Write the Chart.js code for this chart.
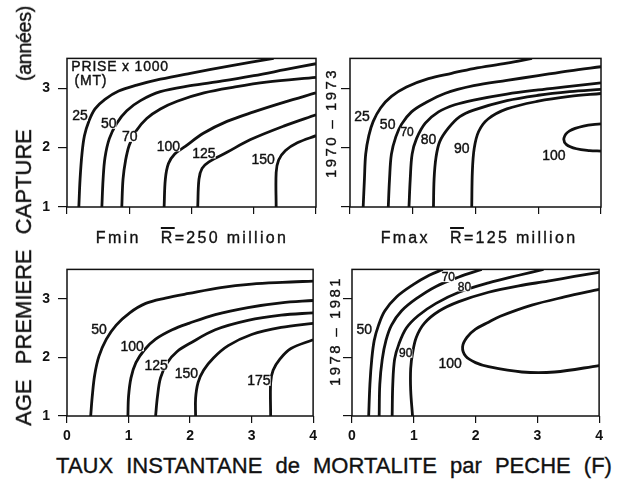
<!DOCTYPE html>
<html lang="fr">
<head>
<meta charset="utf-8">
<title>Prise x 1000 (MT) – isoplèthes</title>
<script src="https://cdn.jsdelivr.net/npm/chart.js@4.4.1/dist/chart.umd.min.js"></script>
<style>
  html, body { margin: 0; padding: 0; background: #fff; }
  body {
    width: 627px; height: 479px; position: relative; overflow: hidden;
    font-family: "Liberation Sans", Arial, sans-serif; color: #111;
  }
  canvas { position: absolute; }
  .txt {
    position: absolute; white-space: nowrap; line-height: 1;
    transform: translate(-50%, -50%);
    -webkit-text-stroke: 0.35px #111;
  }
  .rot { transform: translate(-50%, -50%) rotate(-90deg); }
  .bar { text-decoration: overline; text-decoration-thickness: 1.5px; }
</style>
</head>
<body>

<canvas id="tl" width="295" height="197" style="left:27px;top:42px"></canvas>
<canvas id="tr" width="297" height="197" style="left:310px;top:42px"></canvas>
<canvas id="bl" width="295" height="195" style="left:27px;top:253px"></canvas>
<canvas id="br" width="296" height="195" style="left:312px;top:253px"></canvas>

<div class="txt rot" style="left:24px;top:216px;font-size:22px;word-spacing:9px">AGE PREMIERE CAPTURE<span style="font-size:20px;letter-spacing:-0.5px;margin-left:48px">(années)</span></div>
<div class="txt rot" style="left:330px;top:123px;font-size:15px;letter-spacing:2.4px">1970 – 1973</div>
<div class="txt rot" style="left:334px;top:331px;font-size:15px;letter-spacing:2.4px">1978 – 1981</div>
<div class="txt" style="left:192px;top:238px;font-size:16px;letter-spacing:2.3px">Fmin&nbsp;&nbsp; <span class="bar">R</span>=250 million</div>
<div class="txt" style="left:479px;top:238px;font-size:16px;letter-spacing:2.3px">Fmax&nbsp;&nbsp; <span class="bar">R</span>=125 million</div>
<div class="txt" style="left:334px;top:466px;font-size:22px;word-spacing:7px">TAUX INSTANTANE de MORTALITE par PECHE (F)</div>

<script>
'use strict';

/* ============================================================
   DATA – isopleths of catch (x1000 MT), points [F, age]
   ============================================================ */

/* Top-left : Fmin, R = 250 million, 1970-1973 */
const TL_LEVELS   = ['25', '50', '70', '100', '125', '150'];
const TL_25  = [[0.19,1.0],[0.21,1.47],[0.24,1.89],[0.28,2.2],[0.35,2.44],[0.45,2.65],[0.61,2.81],[0.83,2.95],[1.12,3.05],[1.5,3.15],[1.98,3.25],[2.6,3.37],[3.32,3.5]];
const TL_50  = [[0.56,1.0],[0.58,1.47],[0.61,1.83],[0.68,2.15],[0.8,2.41],[0.96,2.62],[1.18,2.79],[1.5,2.94],[1.98,3.04],[2.5,3.12],[3.0,3.21],[3.5,3.31],[4.0,3.41]];
const TL_70  = [[0.88,1.0],[0.9,1.47],[0.94,1.78],[1.0,2.04],[1.11,2.28],[1.28,2.49],[1.5,2.65],[1.77,2.78],[2.2,2.92],[2.7,3.02],[3.2,3.1],[4.0,3.18]];
const TL_100 = [[1.56,1.0],[1.58,1.47],[1.63,1.73],[1.73,1.89],[1.9,2.02],[2.19,2.24],[2.57,2.44],[3.0,2.6],[3.48,2.76],[4.0,2.92]];
const TL_125 = [[2.1,1.0],[2.12,1.47],[2.17,1.65],[2.28,1.76],[2.57,1.92],[2.94,2.13],[3.48,2.36],[4.0,2.55]];
const TL_150 = [[3.36,1.0],[3.36,1.58],[3.4,1.79],[3.51,1.95],[3.7,2.08],[4.0,2.2]];
const TL_LABEL_AT = [[0.21,2.53],[0.67,2.40],[1.01,2.18],[1.63,2.02],[2.2,1.9],[3.15,1.79]];

/* Top-right : Fmax, R = 125 million, 1970-1973 */
const TR_LEVELS   = ['25', '50', '70', '80', '90', '100'];
const TR_25  = [[0.21,1.0],[0.23,1.47],[0.25,1.89],[0.3,2.2],[0.37,2.44],[0.49,2.67],[0.66,2.86],[0.9,3.02],[1.25,3.16],[1.62,3.25],[1.97,3.33],[2.5,3.42],[2.9,3.5]];
const TR_50  = [[0.61,1.0],[0.63,1.47],[0.66,1.89],[0.73,2.18],[0.82,2.39],[0.98,2.6],[1.2,2.75],[1.51,2.91],[1.97,3.04],[2.5,3.13],[3.0,3.21],[3.5,3.29],[4.0,3.36]];
const TR_70  = [[0.94,1.0],[0.96,1.47],[0.99,1.89],[1.06,2.15],[1.2,2.41],[1.41,2.6],[1.67,2.72],[1.97,2.8],[2.5,2.9],[3.0,2.97],[3.5,3.03],[4.0,3.09]];
const TR_80  = [[1.33,1.0],[1.34,1.47],[1.37,1.83],[1.43,2.1],[1.57,2.33],[1.75,2.52],[1.97,2.63],[2.5,2.79],[3.0,2.88],[3.5,2.94],[4.0,2.98]];
const TR_90  = [[1.94,1.0],[1.95,1.6],[1.98,1.99],[2.05,2.27],[2.2,2.48],[2.5,2.65],[3.0,2.78],[3.5,2.86],[4.0,2.91]];
const TR_100 = [[4.0,2.4],[3.72,2.36],[3.5,2.28],[3.41,2.16],[3.45,2.05],[3.61,1.98],[3.82,1.95],[4.0,1.94]];
const TR_LABEL_AT = [[0.19,2.52],[0.6,2.39],[0.91,2.26],[1.25,2.13],[1.78,1.99],[3.25,1.87]];

/* Bottom-left : Fmin, R = 250 million, 1978-1981 */
const BL_LEVELS   = ['50', '100', '125', '150', '175'];
const BL_50  = [[0.385,1.0],[0.41,1.33],[0.45,1.7],[0.52,2.02],[0.64,2.31],[0.8,2.55],[1.02,2.76],[1.28,2.92],[1.6,3.01],[1.98,3.09],[2.5,3.19],[3.0,3.25],[3.5,3.28],[4.0,3.3]];
const BL_100 = [[0.99,1.0],[1.0,1.33],[1.04,1.65],[1.12,1.91],[1.26,2.13],[1.44,2.31],[1.71,2.47],[1.98,2.58],[2.41,2.73],[2.94,2.85],[3.48,2.93],[4.0,2.97]];
const BL_125 = [[1.44,1.0],[1.47,1.33],[1.52,1.65],[1.63,1.91],[1.79,2.1],[2.0,2.24],[2.41,2.47],[2.94,2.63],[3.48,2.72],[4.0,2.76]];
const BL_150 = [[2.09,1.0],[2.09,1.3],[2.13,1.57],[2.22,1.78],[2.38,1.99],[2.62,2.2],[3.0,2.39],[3.48,2.51],[4.0,2.58]];
const BL_175 = [[3.31,1.0],[3.31,1.57],[3.35,1.78],[3.46,1.97],[3.64,2.15],[4.0,2.3]];
const BL_LABEL_AT = [[0.52,2.47],[1.06,2.19],[1.45,1.86],[1.94,1.73],[3.12,1.6]];

/* Bottom-right : Fmax, R = 125 million, 1978-1981 */
const BR_LEVELS   = ['50', '70', '80', '90', '100'];
const BR_50  = [[0.27,1.0],[0.29,1.54],[0.32,1.97],[0.36,2.29],[0.43,2.55],[0.53,2.79],[0.72,3.03],[0.99,3.24],[1.25,3.4],[1.47,3.5]];
const BR_70  = [[0.44,1.0],[0.45,1.54],[0.49,1.97],[0.55,2.29],[0.64,2.55],[0.8,2.79],[1.04,3.0],[1.36,3.21],[1.73,3.37],[2.1,3.5]];
const BR_80  = [[0.65,1.0],[0.66,1.54],[0.69,1.97],[0.76,2.23],[0.88,2.5],[1.07,2.71],[1.36,2.92],[1.73,3.11],[2.21,3.27],[2.7,3.4],[3.1,3.5]];
const BR_90  = [[0.98,1.0],[0.95,1.44],[0.95,1.81],[0.98,2.07],[1.04,2.34],[1.17,2.58],[1.41,2.79],[1.73,2.95],[2.21,3.11],[2.7,3.22],[3.17,3.3],[3.6,3.38],[4.0,3.45]];
const BR_100 = [[4.0,3.16],[3.44,3.03],[2.91,2.89],[2.4,2.7],[2.21,2.6],[2.0,2.48],[1.86,2.34],[1.79,2.18],[1.84,2.02],[2.0,1.91],[2.21,1.84],[2.75,1.75],[3.28,1.75],[4.0,1.86]];
const BR_LABEL_AT = [[0.2,2.48],[1.56,3.36],[1.82,3.2],[0.87,2.07],[1.59,1.89]];

/* Axis ticks */
const F_TICKS   = [0, 1, 2, 3, 4];
const AGE_TICKS = [1, 2, 3];

/* ============================================================
   PLUGINS
   ============================================================ */
const FONT = '"Liberation Sans", Arial, sans-serif';
const INK  = '#111';

/* Full rectangle round the plot area */
const framePlugin = {
  id: 'frame',
  afterDatasetsDraw(chart) {
    const a = chart.chartArea, ctx = chart.ctx;
    ctx.save();
    ctx.strokeStyle = INK;
    ctx.lineWidth = 1.5;
    ctx.strokeRect(a.left, a.top, a.right - a.left, a.bottom - a.top);
    ctx.restore();
  }
};

/* Level labels, placed in data units */
const levelLabelPlugin = {
  id: 'levelLabels',
  afterDatasetsDraw(chart, args, opts) {
    const ctx = chart.ctx, xs = chart.scales.x, ys = chart.scales.y;
    ctx.save();
    ctx.textAlign = 'center';
    ctx.textBaseline = 'middle';
    ctx.strokeStyle = INK;
    ctx.lineWidth = 0.4;
    (opts.texts || []).forEach(function (t, i) {
      const at = opts.at[i];
      const px = xs.getPixelForValue(at[0]);
      const py = ys.getPixelForValue(at[1]);
      const small = (opts.small || []).indexOf(t) >= 0;
      ctx.font = (small ? 12 : 14) + 'px ' + FONT;
      const w = ctx.measureText(t).width;
      const h = small ? 9 : 10;
      ctx.fillStyle = '#fff';
      ctx.fillRect(px - w / 2, py - h / 2, w, h);
      ctx.fillStyle = INK;
      ctx.fillText(t, px, py + 0.5);
      ctx.strokeText(t, px, py + 0.5);
    });
    /* note inside the panel */
    if (opts.note) {
      ctx.textAlign = 'left';
      ctx.font = '14px ' + FONT;
      ctx.letterSpacing = '0.8px';
      opts.note.forEach(function (n) {
        const x = xs.getPixelForValue(n.at[0]), y = ys.getPixelForValue(n.at[1]);
        ctx.fillText(n.text, x, y);
        ctx.strokeText(n.text, x, y);
      });
    }
    ctx.restore();
  }
};

/* ============================================================
   PANEL BUILDER
   ============================================================ */
function makePanel(id, curves, texts, at, cfg) {
  const canvas = document.getElementById(id);

  return new Chart(canvas, {
    type: 'scatter',
    data: {
      datasets: curves.map(function (c) {
        return {
          data       : c.map(function (p) { return { x: p[0], y: p[1] }; }),
          showLine   : true,
          borderColor: INK,
          borderWidth: 2.8,
          pointRadius: 0,
          tension    : 0.35,
          fill       : false
        };
      })
    },
    options: {
      responsive: false,
      animation : false,
      events    : [],
      layout    : { padding: { top: 6, right: 6, left: 0, bottom: 0 }, autoPadding: false },
      plugins   : {
        legend : { display: false },
        tooltip: { enabled: false },
        levelLabels: { texts: texts, at: at, small: cfg.small, note: cfg.note }
      },
      scales: {
        x: {
          type: 'linear', min: F_TICKS[0], max: F_TICKS[F_TICKS.length - 1],
          afterFit: function (s) { s.height = 32; },
          afterBuildTicks: function (s) { s.ticks = F_TICKS.map(function (v) { return { value: v }; }); },
          border: { display: false },
          grid  : { drawOnChartArea: false, drawTicks: true, tickLength: 7, color: INK, lineWidth: 1.2 },
          ticks : {
            padding: 5, color: INK, autoSkip: false, maxRotation: 0,
            font: { family: FONT, size: 14, weight: 'bold' },
            callback: function (v) { return cfg.xLabels ? String(v) : ''; }
          }
        },
        y: {
          type: 'linear', min: 1, max: 3.5,
          afterFit: function (s) { s.width = 40; },
          afterBuildTicks: function (s) { s.ticks = AGE_TICKS.map(function (v) { return { value: v }; }); },
          border: { display: false },
          grid  : { drawOnChartArea: false, drawTicks: true, tickLength: 9, color: INK, lineWidth: 1.2 },
          ticks : {
            padding: 8, color: INK, autoSkip: false,
            font: { family: FONT, size: 14, weight: 'bold' },
            callback: function (v) { return cfg.yLabels ? String(v) : ''; }
          }
        }
      }
    },
    plugins: [framePlugin, levelLabelPlugin]
  });
}

/* ============================================================
   INIT
   ============================================================ */
makePanel('tl', [TL_25, TL_50, TL_70, TL_100, TL_125, TL_150], TL_LEVELS, TL_LABEL_AT, {
  xLabels: false, yLabels: true,
  note: [{ text: 'PRISE x 1000', at: [0.07, 3.35] }, { text: '(MT)', at: [0.12, 3.11] }]
});
makePanel('tr', [TR_25, TR_50, TR_70, TR_80, TR_90, TR_100], TR_LEVELS, TR_LABEL_AT, {
  xLabels: false, yLabels: false, small: ['70']
});
makePanel('bl', [BL_50, BL_100, BL_125, BL_150, BL_175], BL_LEVELS, BL_LABEL_AT, {
  xLabels: true, yLabels: true
});
makePanel('br', [BR_50, BR_70, BR_80, BR_90, BR_100], BR_LEVELS, BR_LABEL_AT, {
  xLabels: true, yLabels: false, small: ['70', '80', '90']
});
</script>
</body>
</html>
